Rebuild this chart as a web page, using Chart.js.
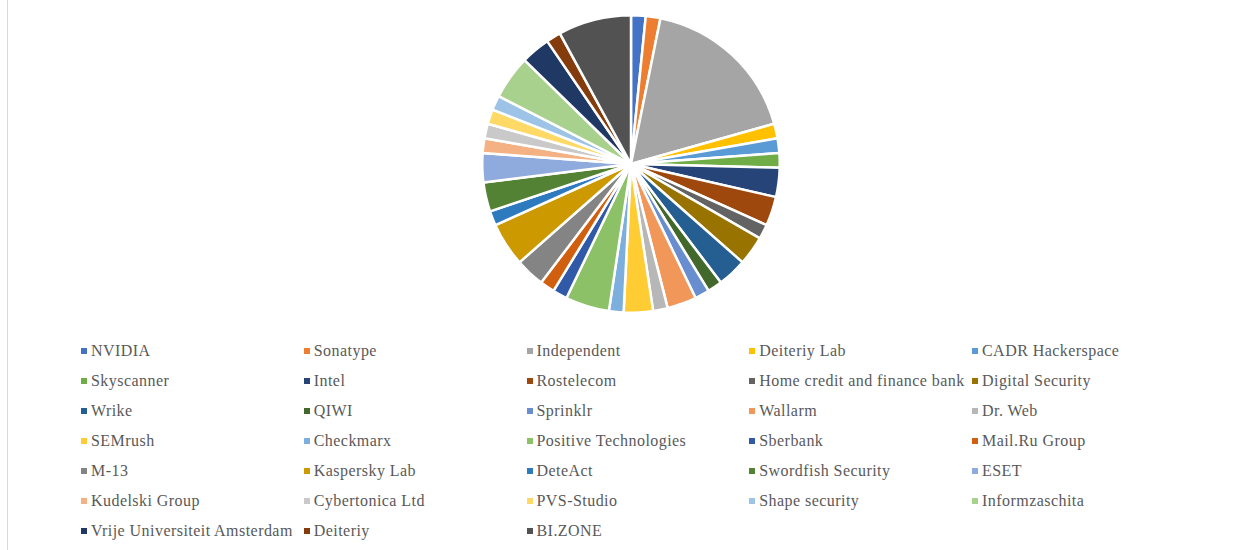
<!DOCTYPE html>
<html>
<head>
<meta charset="utf-8">
<script src="https://cdn.jsdelivr.net/npm/chart.js@4"></script>
<style>
  html, body { margin: 0; padding: 0; background: #fff; }
  #wrap { position: relative; width: 1249px; height: 550px; overflow: hidden; }
  #frame { position: absolute; left: 7px; top: 0; width: 0; height: 550px; border-left: 1px solid #d9d9d9; }
  #pie { position: absolute; left: 481px; top: 14px; }
  #legend { position: absolute; left: 79px; top: 336px; display: grid;
    grid-template-columns: repeat(5, 222.75px); grid-auto-rows: 30px;
    font-family: "Liberation Serif", "Times New Roman", serif; font-size: 16px;
    letter-spacing: 0.45px; color: #595959; }
  .item { display: flex; align-items: center; white-space: nowrap; }
  .box { width: 6px; height: 6px; margin: 0 4px 0 2px; flex: none; }
</style>
</head>
<body>
<div id="wrap">
  <div id="frame"></div>
  <canvas id="pie" width="300" height="300"></canvas>
  <div id="legend"></div>
</div>
<script>
const empresas = [
  "NVIDIA", "Sonatype", "Independent", "Deiteriy Lab", "CADR Hackerspace",
  "Skyscanner", "Intel", "Rostelecom", "Home credit and finance bank", "Digital Security",
  "Wrike", "QIWI", "Sprinklr", "Wallarm", "Dr. Web",
  "SEMrush", "Checkmarx", "Positive Technologies", "Sberbank", "Mail.Ru Group",
  "M-13", "Kaspersky Lab", "DeteAct", "Swordfish Security", "ESET",
  "Kudelski Group", "Cybertonica Ltd", "PVS-Studio", "Shape security", "Informzaschita",
  "Vrije Universiteit Amsterdam", "Deiteriy", "BI.ZONE"
];

const valores = [
  1, 1, 11, 1, 1,
  1, 2, 2, 1, 2,
  2, 1, 1, 2, 1,
  2, 1, 3, 1, 1,
  2, 3, 1, 2, 2,
  1, 1, 1, 1, 3,
  2, 1, 5
];

const cores = [
  "#4472C4", "#ED7D31", "#A5A5A5", "#FFC000", "#5B9BD5",
  "#70AD47", "#264478", "#9E480E", "#636363", "#997300",
  "#255E91", "#43682B", "#698ED0", "#F1975A", "#B7B7B7",
  "#FFCD33", "#7CAFDD", "#8CC168", "#3059A8", "#D0600F",
  "#848484", "#CC9A00", "#2E7ABF", "#548235", "#8FAADC",
  "#F4B183", "#C9C9C9", "#FFD966", "#9DC3E6", "#A9D18E",
  "#203864", "#843C0C", "#525252"
];

new Chart(document.getElementById("pie"), {
  type: "pie",
  data: {
    labels: empresas,
    datasets: [{
      data: valores,
      backgroundColor: cores,
      borderColor: "#ffffff",
      borderWidth: 2.5
    }]
  },
  options: {
    responsive: false,
    animation: false,
    plugins: { legend: { display: false }, tooltip: { enabled: false } }
  }
});

const legenda = document.getElementById("legend");
empresas.forEach((nome, i) => {
  const item = document.createElement("div");
  item.className = "item";
  const box = document.createElement("span");
  box.className = "box";
  box.style.background = cores[i];
  item.appendChild(box);
  item.appendChild(document.createTextNode(nome));
  legenda.appendChild(item);
});
</script>
</body>
</html>
